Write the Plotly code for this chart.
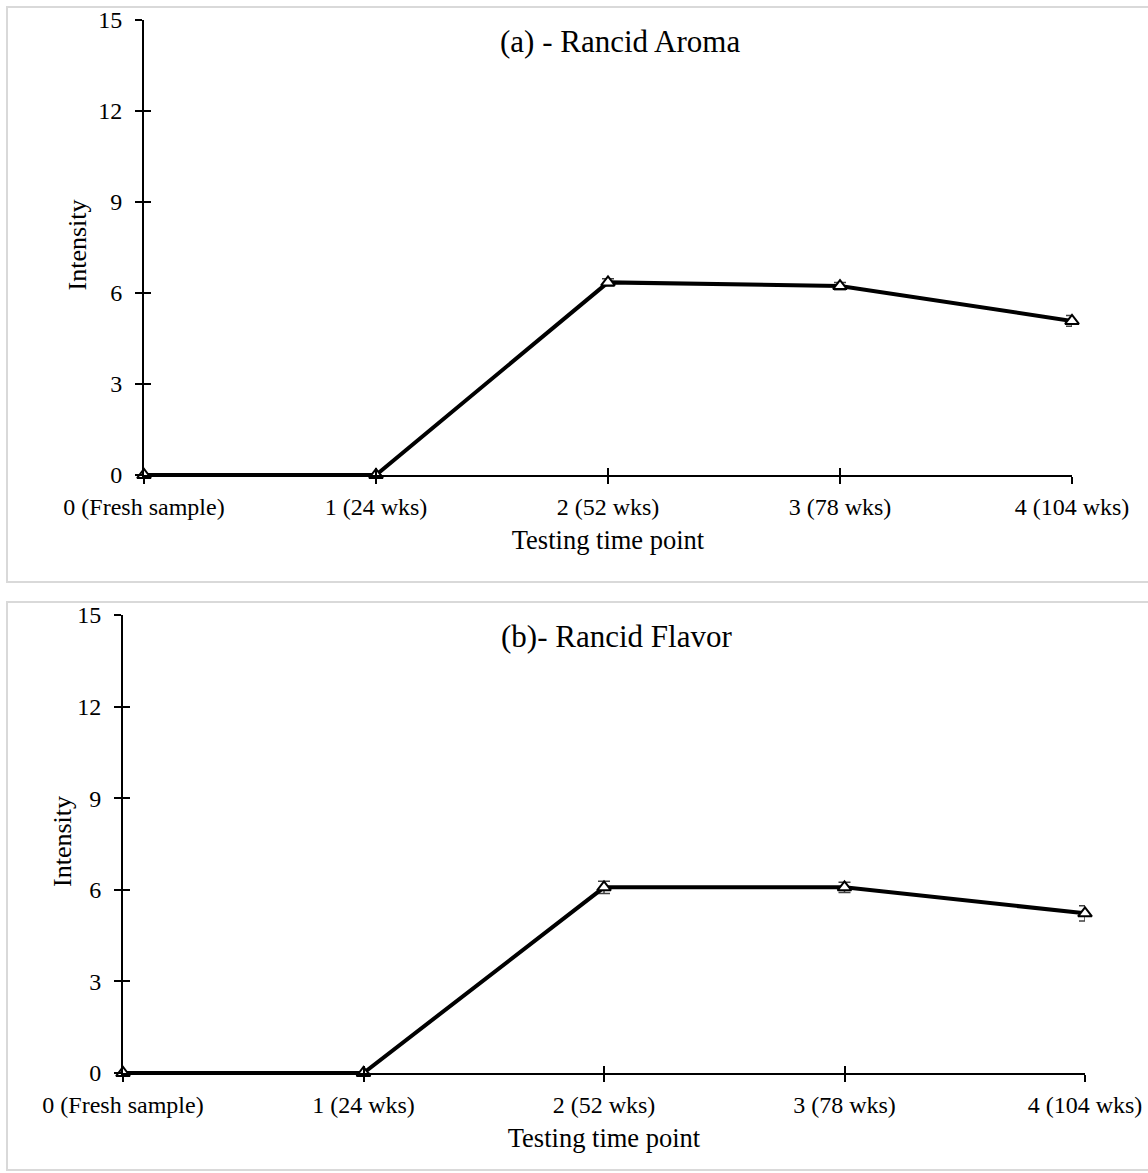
import plotly.graph_objects as go

categories = ["0 (Fresh sample)", "1 (24 wks)", "2 (52 wks)", "3 (78 wks)", "4 (104 wks)"]
aroma = [0, 0, 6.35, 6.23, 5.08]
aroma_err = [0, 0, 0.12, 0.12, 0.18]
flavor = [0, 0, 6.08, 6.08, 5.23]
flavor_err = [0, 0, 0.2, 0.17, 0.25]
y_ticks = [0, 3, 6, 9, 12, 15]

W, H = 1148, 1173
FONT = "Liberation Serif, Times New Roman, serif"

def px_x(p):
    return p / W

def px_y(p):
    return 1 - p / H

fig = go.Figure()

for i, (vals, errs) in enumerate([(aroma, aroma_err), (flavor, flavor_err)]):
    sfx = "" if i == 0 else "2"
    fig.add_trace(go.Scatter(
        x=categories, y=vals,
        xaxis="x" + sfx, yaxis="y" + sfx,
        mode="lines+markers",
        line=dict(color="black", width=4),
        marker=dict(symbol="triangle-up", size=12, color="white",
                    line=dict(color="black", width=2)),
        error_y=dict(type="data", array=errs, visible=True,
                     color="#404040", thickness=1.5, width=6),
        cliponaxis=False, showlegend=False,
    ))

panels = [
    # (x0, x1, ytop, ybottom, y-title x) in pixels
    (144, 1072, 20, 475, 77),
    (123, 1085, 615, 1073, 62),
]

layout = dict(
    width=W, height=H, autosize=False,
    margin=dict(l=0, r=0, t=0, b=0, pad=0),
    paper_bgcolor="white", plot_bgcolor="white",
    font=dict(family=FONT, size=24, color="black"),
    showlegend=False,
)

axis_common_x = dict(
    type="category", range=[0, 4], showline=True, linecolor="black", linewidth=2,
    ticks="outside", ticklen=7, tickwidth=2, tickcolor="black", automargin=False,
    showgrid=False, zeroline=False, tickfont=dict(family=FONT, size=24),
    ticklabelstandoff=2,
)
axis_common_y = dict(
    range=[0, 15], tickvals=y_ticks, showline=True, linecolor="black", linewidth=2,
    ticks="outside", ticklen=7, tickwidth=2, tickcolor="black", automargin=False,
    showgrid=False, zeroline=False, tickfont=dict(family=FONT, size=24),
    ticklabelstandoff=8,
)

for i, (x0, x1, yt, yb, tx) in enumerate(panels):
    n = 2 * i
    xa = "xaxis" if i == 0 else "xaxis2"
    ya = "yaxis" if i == 0 else "yaxis2"
    xref = "x" if i == 0 else "x2"
    yref = "y" if i == 0 else "y2"
    xdom = [px_x(x0), px_x(x1)]
    ydom = [px_y(yb), px_y(yt)]
    layout[xa] = dict(axis_common_x, domain=xdom, anchor=yref,
                      title=dict(text="Testing time point", font=dict(family=FONT, size=26.5), standoff=12))
    layout[ya] = dict(axis_common_y, domain=ydom, anchor=xref)
    # overlay axes for inside half of cross ticks
    ox = "xaxis%d" % (3 + n)
    oy = "yaxis%d" % (3 + n)
    layout[ox] = dict(type="category", range=[0, 4], overlaying=xref, anchor=yref,
                      domain=xdom, ticks="inside", ticklen=7, tickwidth=2, tickcolor="black",
                      showticklabels=False, showline=False, showgrid=False, zeroline=False,
                      automargin=False, categoryarray=categories, tickvals=categories)
    layout[oy] = dict(range=[0, 15], overlaying=yref, anchor=xref, domain=ydom,
                      tickvals=y_ticks, ticks="inside", ticklen=7, tickwidth=2, tickcolor="black",
                      automargin=False, showticklabels=False, showline=False, showgrid=False, zeroline=False)

fig.update_layout(**layout)

# y-axis titles
for (x0, x1, yt, yb, tx) in panels:
    fig.add_annotation(text="Intensity", xref="paper", yref="paper",
                       x=px_x(tx), y=px_y((yt + yb) / 2 - 2), textangle=-90,
                       xanchor="center", yanchor="middle", showarrow=False,
                       font=dict(family=FONT, size=26))

# invisible traces so overlay axes render with category ticks
for n in (3, 5):
    fig.add_trace(go.Scatter(x=categories, y=[None] * 5, xaxis="x%d" % n, yaxis="y%d" % n,
                             mode="markers", showlegend=False, hoverinfo="skip"))

# panel borders
fig.add_shape(type="rect", xref="paper", yref="paper",
              x0=px_x(7), x1=px_x(1160), y0=px_y(582), y1=px_y(7),
              line=dict(color="#d9d9d9", width=2), layer="below")
fig.add_shape(type="rect", xref="paper", yref="paper",
              x0=px_x(7), x1=px_x(1160), y0=px_y(1170), y1=px_y(602),
              line=dict(color="#d9d9d9", width=2), layer="below")

# panel titles
fig.add_annotation(text="(a) - Rancid Aroma", xref="paper", yref="paper",
                   x=px_x(620), y=px_y(42), yanchor="middle", showarrow=False,
                   font=dict(family=FONT, size=31))
fig.add_annotation(text="(b)- Rancid Flavor", xref="paper", yref="paper",
                   x=px_x(616), y=px_y(636), yanchor="middle", showarrow=False,
                   font=dict(family=FONT, size=31))

fig.write_html("out.html")
